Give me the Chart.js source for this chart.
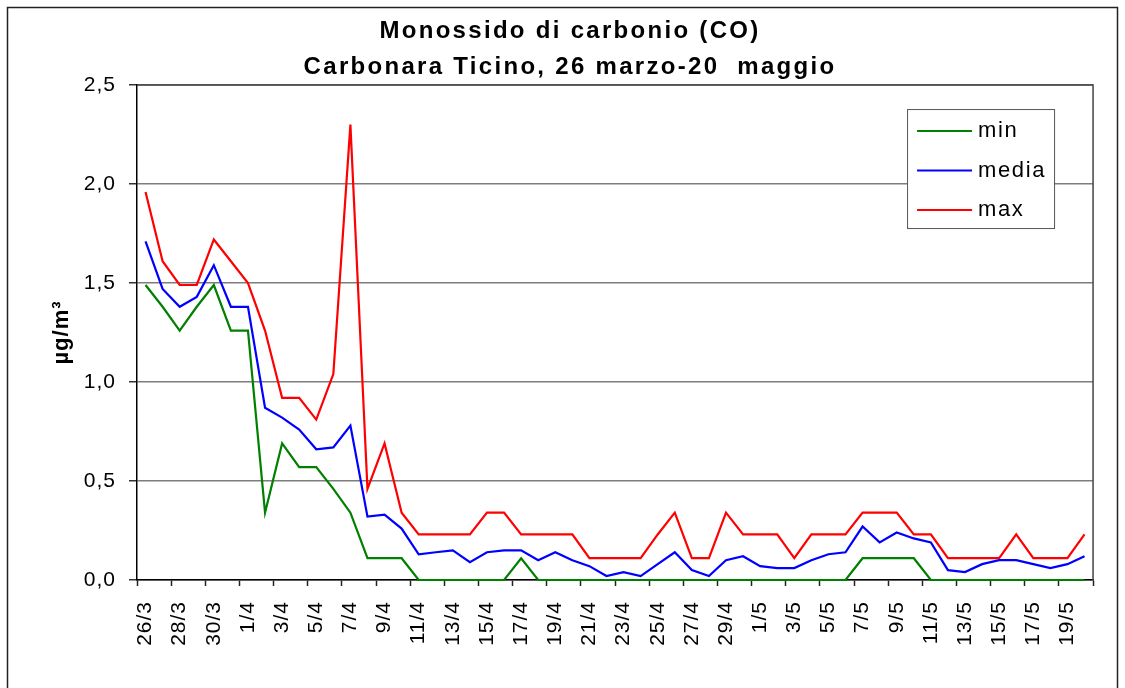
<!DOCTYPE html>
<html>
<head>
<meta charset="utf-8">
<script src="https://cdn.jsdelivr.net/npm/chart.js@4.4.1/dist/chart.umd.min.js"></script>
<style>
  html, body { margin: 0; padding: 0; background: #fff; }
  #wrap { width: 1125px; height: 688px; position: relative; }
</style>
</head>
<body>
<div id="wrap"><canvas id="c" width="1125" height="688"></canvas></div>
<script>
const categories = [
  '26/3','27/3','28/3','29/3','30/3','31/3',
  '1/4','2/4','3/4','4/4','5/4','6/4','7/4','8/4','9/4','10/4',
  '11/4','12/4','13/4','14/4','15/4','16/4','17/4','18/4','19/4','20/4',
  '21/4','22/4','23/4','24/4','25/4','26/4','27/4','28/4','29/4','30/4',
  '1/5','2/5','3/5','4/5','5/5','6/5','7/5','8/5','9/5','10/5',
  '11/5','12/5','13/5','14/5','15/5','16/5','17/5','18/5','19/5','20/5'
];
const minValues = [
  1.49,1.38,1.26,1.38,1.49,1.26,
  1.26,0.34,0.69,0.57,0.57,0.46,0.34,0.11,0.11,0.11,
  0,0,0,0,0,0,0.11,0,0,0,
  0,0,0,0,0,0,0,0,0,0,
  0,0,0,0,0,0,0.11,0.11,0.11,0.11,
  0,0,0,0,0,0,0,0,0,0
];
const mediaValues = [
  1.71,1.47,1.38,1.43,1.59,1.38,
  1.38,0.87,0.82,0.76,0.66,0.67,0.78,0.32,0.33,0.26,
  0.13,0.14,0.15,0.09,0.14,0.15,0.15,0.10,0.14,0.10,
  0.07,0.02,0.04,0.02,0.08,0.14,0.05,0.02,0.10,0.12,
  0.07,0.06,0.06,0.10,0.13,0.14,0.27,0.19,0.24,0.21,
  0.19,0.05,0.04,0.08,0.10,0.10,0.08,0.06,0.08,0.12
];
const maxValues = [
  1.96,1.61,1.49,1.49,1.72,1.61,
  1.50,1.26,0.92,0.92,0.81,1.04,2.30,0.46,0.69,0.34,
  0.23,0.23,0.23,0.23,0.34,0.34,0.23,0.23,0.23,0.23,
  0.11,0.11,0.11,0.11,0.23,0.34,0.11,0.11,0.34,0.23,
  0.23,0.23,0.11,0.23,0.23,0.23,0.34,0.34,0.34,0.23,
  0.23,0.11,0.11,0.11,0.11,0.23,0.11,0.11,0.11,0.23
];
const seriesNames = ['min', 'media', 'max'];
const seriesColors = ['#008000', '#0000ff', '#ff0000'];
const titleLines = ['Monossido di carbonio (CO)', 'Carbonara Ticino, 26 marzo-20  maggio'];
const yAxisTitle = 'µg/m³';
const yTicks = { min: 0, max: 2.5, step: 0.5 };

const FONT = "'Liberation Sans', Arial, Helvetica, sans-serif";

const framePlugin = {
  id: 'frame',
  beforeDraw(chart) {
    const ctx = chart.ctx;
    ctx.save();
    ctx.fillStyle = '#fff';
    ctx.fillRect(0, 0, chart.width, chart.height);
    ctx.strokeStyle = '#222';
    ctx.lineWidth = 1.5;
    ctx.beginPath();
    ctx.moveTo(7.5, 720);
    ctx.lineTo(7.5, 7.5);
    ctx.lineTo(1117.5, 7.5);
    ctx.lineTo(1117.5, 720);
    ctx.stroke();
    ctx.restore();
    ctx.letterSpacing = '1px';
    const tb = chart.titleBlock;
    if (tb && !tb._patched) {
      const orig = tb.draw.bind(tb);
      tb.draw = function (area) {
        const c = chart.ctx;
        c.save();
        c.letterSpacing = '2.3px';
        orig(area);
        c.restore();
      };
      tb._patched = true;
    }
  },
  beforeDatasetsDraw(chart) {
    const { ctx, chartArea: a } = chart;
    ctx.save();
    ctx.strokeStyle = '#444';
    ctx.lineWidth = 1.5;
    ctx.beginPath();
    ctx.moveTo(a.left, a.top);
    ctx.lineTo(a.right, a.top);
    ctx.lineTo(a.right, a.bottom);
    ctx.stroke();
    ctx.restore();
  },
  afterDatasetsDraw(chart) {
    const { ctx, chartArea: a } = chart;
    const x0 = a.right - 186, y0 = a.top + 24, w = 147, h = 119;
    ctx.save();
    ctx.fillStyle = '#fff';
    ctx.fillRect(x0, y0, w, h);
    ctx.strokeStyle = '#555';
    ctx.lineWidth = 1;
    ctx.strokeRect(x0 + 0.5, y0 + 0.5, w, h);
    ctx.font = '22px ' + FONT;
    ctx.letterSpacing = '1.6px';
    ctx.textBaseline = 'middle';
    ctx.textAlign = 'left';
    chart.data.datasets.forEach((ds, i) => {
      const y = y0 + 22 + i * 39.5;
      ctx.strokeStyle = ds.borderColor;
      ctx.lineWidth = 2;
      ctx.beginPath();
      ctx.moveTo(x0 + 10, y);
      ctx.lineTo(x0 + 65, y);
      ctx.stroke();
      ctx.fillStyle = '#000';
      ctx.fillText(ds.label, x0 + 71, y);
    });
    ctx.restore();
  },
  afterDraw(chart) {
    chart.ctx.letterSpacing = '0px';
  }
};

const ctx = document.getElementById('c').getContext('2d');
new Chart(ctx, {
  type: 'line',
  data: {
    labels: categories,
    datasets: [
      { label: seriesNames[0], data: minValues, borderColor: seriesColors[0] },
      { label: seriesNames[1], data: mediaValues, borderColor: seriesColors[1] },
      { label: seriesNames[2], data: maxValues, borderColor: seriesColors[2] }
    ].map(d => Object.assign(d, {
      backgroundColor: d.borderColor, borderWidth: 2.2, pointRadius: 0,
      tension: 0, fill: false, clip: 4
    }))
  },
  options: {
    responsive: false,
    animation: false,
    devicePixelRatio: 1,
    layout: { padding: { left: 46, right: 31, top: 0, bottom: 0 } },
    plugins: {
      legend: { display: false },
      tooltip: { enabled: false },
      title: {
        display: true,
        text: titleLines,
        color: '#000',
        font: { family: FONT, size: 24, weight: 'bold', lineHeight: 1.48 },
        padding: { top: 14, bottom: 0 }
      }
    },
    scales: {
      x: {
        type: 'category',
        offset: true,
        afterFit(s) { s.height = 108; },
        grid: {
          offset: true,
          drawOnChartArea: false,
          drawTicks: true,
          tickLength: 6,
          tickWidth: 1.5,
          tickColor: (c) => (c.type !== 'tick' || c.index % 2 === 0) ? '#222' : 'rgba(0,0,0,0)'
        },
        border: { display: true, color: '#000', width: 1.5 },
        ticks: {
          autoSkip: false,
          maxRotation: 90,
          minRotation: 90,
          padding: 15,
          color: '#000',
          font: { family: FONT, size: 21 },
          callback: (v, i) => (i % 2 === 0 ? categories[i] : '')
        }
      },
      y: {
        min: yTicks.min,
        max: yTicks.max,
        afterFit(s) { s.width = 91; },
        grid: {
          color: '#7d7d7d',
          lineWidth: 1.5,
          tickLength: 8,
          tickColor: '#333',
          tickWidth: 1.5
        },
        border: { display: true, color: '#000', width: 1.5 },
        title: {
          display: true,
          text: yAxisTitle,
          color: '#000',
          font: { family: FONT, size: 22, weight: 'bold', lineHeight: 1.2 },
          padding: { top: 3, bottom: 0 }
        },
        ticks: {
          stepSize: yTicks.step,
          padding: 13,
          color: '#000',
          font: { family: FONT, size: 21 },
          callback: (v) => Number(v).toFixed(1).replace('.', ',')
        }
      }
    }
  },
  plugins: [framePlugin]
});
</script>
</body>
</html>
